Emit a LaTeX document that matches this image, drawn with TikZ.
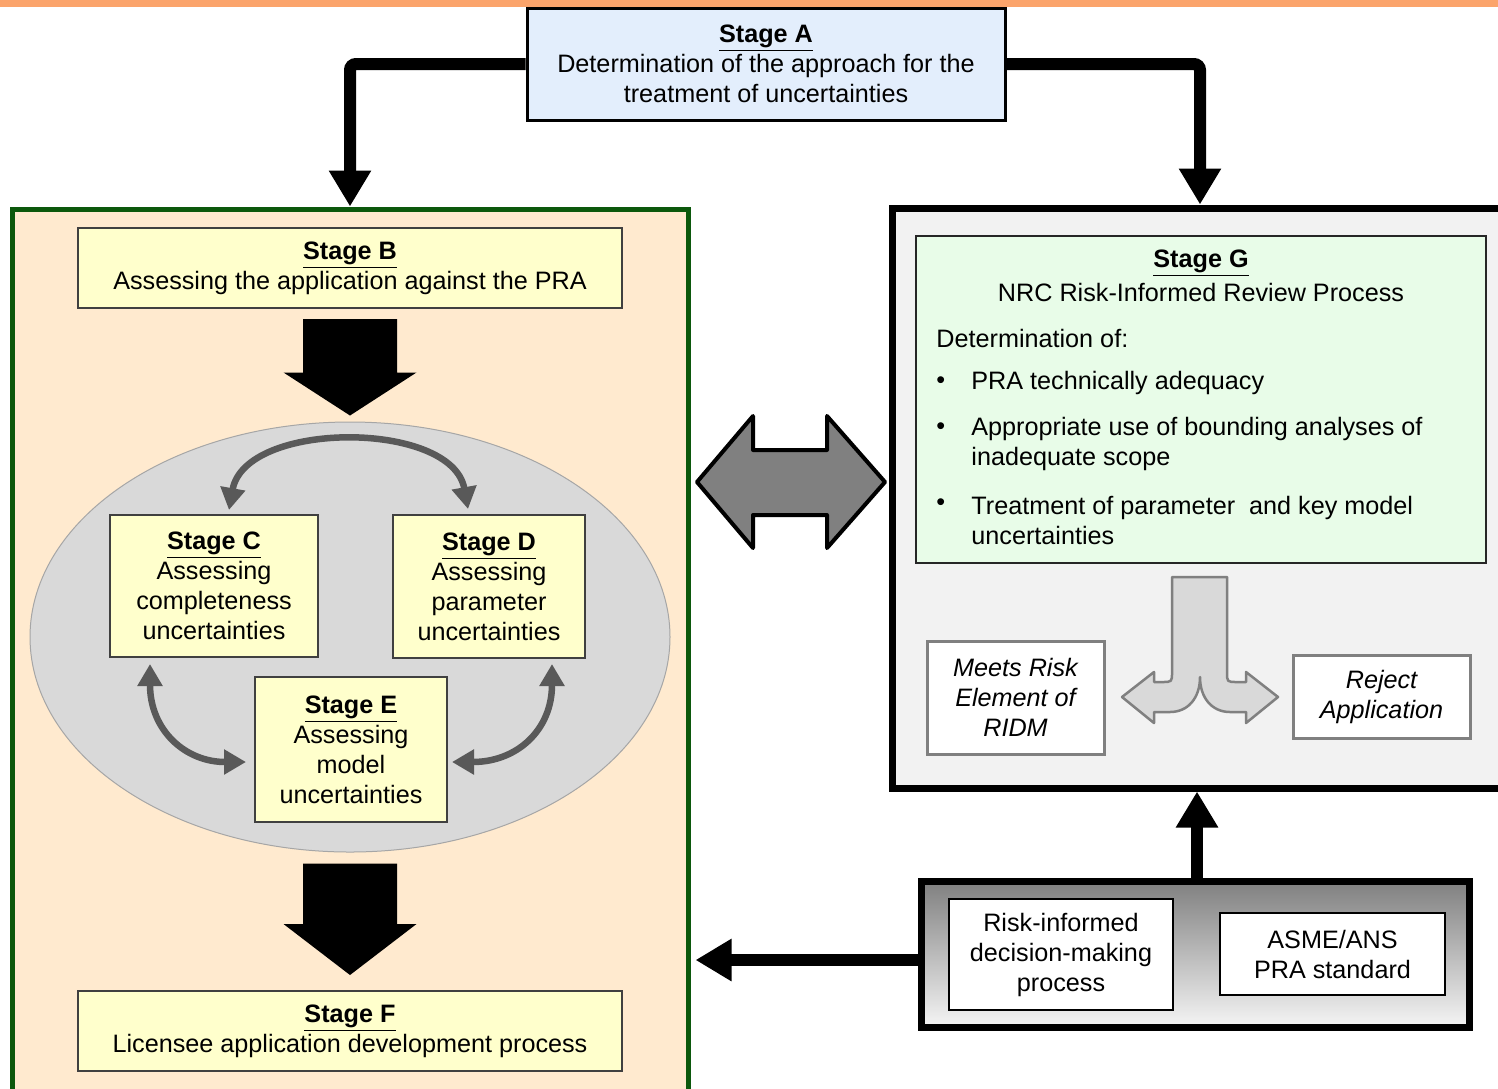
\documentclass[tikz,border=0pt]{standalone}
\usepackage{fontspec}
\setmainfont{Liberation Sans}
\usepackage{tikz}
\usetikzlibrary{shapes.geometric, arrows.meta, calc}

\definecolor{topbar}{RGB}{251,164,107}
\definecolor{stageblue}{RGB}{227,238,252}
\definecolor{peach}{RGB}{255,234,207}
\definecolor{darkgreen}{RGB}{12,88,12}
\definecolor{paleyellow}{RGB}{255,255,204}
\definecolor{mint}{RGB}{232,252,232}
\definecolor{panelgray}{RGB}{242,242,242}
\definecolor{ovalgray}{RGB}{217,217,217}
\definecolor{cyclegray}{RGB}{89,89,89}

\newcommand{\stagetitle}[1]{\underline{\textbf{#1}}}

\tikzstyle{panel} = [rectangle, draw=black, line width=3.5pt, inner sep=0pt]
\tikzstyle{stagebox} = [rectangle, draw=black!75, line width=1pt, fill=paleyellow, align=center, inner sep=0pt]
\tikzstyle{outcome} = [rectangle, draw=black!50, line width=1.5pt, fill=white, align=center, inner sep=0pt, font=\fontsize{12.6}{15}\selectfont\itshape]
\tikzstyle{inputbox} = [rectangle, draw=black, line width=1pt, fill=white, align=center, inner sep=0pt]
\tikzstyle{arrow} = [line width=6pt, -{Triangle[width=20pt,length=18pt]}]
\tikzstyle{cyclearrow} = [draw=cyclegray, line width=3.25pt, {Triangle[width=12pt,length=11pt]}-{Triangle[width=12pt,length=11pt]}]
\tikzstyle{blockarrow} = [fill=black]

\begin{document}
\begin{tikzpicture}[x=0.5pt, y=-0.5pt, font=\fontsize{12.6}{15}\selectfont]
\useasboundingbox (0,0) rectangle (1498,1088);
\fill[topbar] (0,0) rectangle (1498,7);

% left panel
\node (leftpanel) [panel, draw=darkgreen, line width=2.5pt, fill=peach, minimum width=338pt, minimum height=445.5pt] at (350,654.5) {};
\node (stageB) [stagebox, minimum width=272pt, minimum height=40pt] at (350,268) {\stagetitle{Stage B}\\Assessing the application against the PRA};
\node (oval) [ellipse, draw=black!35, line width=0.5pt, fill=ovalgray, inner sep=0pt, minimum width=320pt, minimum height=215pt] at (350,637) {};
\node (stageC) [stagebox, minimum width=104pt, minimum height=71pt] at (214,586) {\stagetitle{Stage C}\\Assessing\\completeness\\uncertainties};
\node (stageD) [stagebox, minimum width=96pt, minimum height=71.5pt] at (489,586.5) {\stagetitle{Stage D}\\Assessing\\parameter\\uncertainties};
\node (stageE) [stagebox, minimum width=96pt, minimum height=72.5pt] at (351,749.5) {\stagetitle{Stage E}\\Assessing\\model\\uncertainties};
\node (stageF) [stagebox, minimum width=272pt, minimum height=40pt] at (350,1031) {\stagetitle{Stage F}\\Licensee application development process};

% right panel
\node (rightpanel) [panel, fill=panelgray, minimum width=308pt, minimum height=290pt] at (1200,498) {};
\node (stageG) [rectangle, draw=black!85, line width=1pt, fill=mint, minimum width=285pt, minimum height=163.5pt] at (1201,399.5) {};
\node (gtitle) at (1201,263) {\stagetitle{Stage G}};
\node (gsub) at (1201,292) {NRC Risk-Informed Review Process};
\node (gdet) [anchor=west, inner sep=0pt] at (936,338) {Determination of:};
\node (gdot1) [anchor=west, inner sep=0pt] at (936,383) {\textbullet};
\node (gitem1) [anchor=west, inner sep=0pt] at (971,383) {PRA technically adequacy};
\node (gdot2) [anchor=west, inner sep=0pt] at (936,429) {\textbullet};
\node (gitem2) [anchor=west, inner sep=0pt, align=left] at (971,444) {Appropriate use of bounding analyses of\\inadequate scope};
\node (gdot3) [anchor=west, inner sep=0pt] at (936,505) {\textbullet};
\node (gitem3) [anchor=west, inner sep=0pt, align=left] at (971,520) {Treatment of parameter~ and key model\\uncertainties};

\node (meets) [outcome, minimum width=88.5pt, minimum height=56.5pt] at (1015.5,697.5) {Meets Risk\\Element of\\RIDM};
\node (reject) [outcome, minimum width=88.5pt, minimum height=41.5pt] at (1381.5,696.5) {Reject\\Application};
\draw [fill=ovalgray, draw=black!50, line width=1.25pt, line join=round]
  (1172,577) -- (1227,577) -- (1227,672) .. controls (1227,682) .. (1237,682) -- (1246,682) -- (1246,672)
  -- (1278,697) -- (1246,723) -- (1246,712) -- (1230,712)
  .. controls (1212,712) and (1200,698) .. (1200,677)
  .. controls (1200,698) and (1188,712) .. (1170,712)
  -- (1154,712) -- (1154,723) -- (1122,697) -- (1154,672) -- (1154,682) -- (1162,682)
  .. controls (1172,682) .. (1172,672) -- cycle;

% inputs
\node (inputs) [panel, top color=black!50, bottom color=black!4, minimum width=274pt, minimum height=73pt] at (1195,954) {};
\node (ridm) [inputbox, minimum width=112pt, minimum height=55.5pt] at (1061,954.5) {Risk-informed\\decision-making\\process};
\node (asme) [inputbox, minimum width=112.5pt, minimum height=41pt] at (1332.5,954) {ASME/ANS\\PRA standard};

\node (stageA) [rectangle, draw=black, line width=1.5pt, fill=stageblue, minimum width=239pt, minimum height=56pt, align=center, inner sep=0pt] at (766,64) {\stagetitle{Stage A}\\Determination of the approach for the\\treatment of uncertainties};

% connectors
\draw [arrow, rounded corners=3pt] (stageA.west) -| (leftpanel.north);
\draw [arrow, rounded corners=3pt] (stageA.east) -| (rightpanel.north);
\draw [arrow] ($(inputs.north)+(2,0)$) -- ($(inputs.north |- rightpanel.south)+(2,0)$);
\draw [arrow] ($(inputs.west)+(0,6)$) -- ($(inputs.west -| leftpanel.east)+(5,6)$);

\fill [blockarrow] ($(stageB.south)+(-47,10)$) -- ($(stageB.south)+(47,10)$) -- ($(oval.north)+(47,-49)$) -- ($(oval.north)+(66.5,-49)$)
  -- ($(oval.north)+(0,-6)$) -- ($(oval.north)+(-66.5,-49)$) -- ($(oval.north)+(-47,-49)$) -- cycle;
\fill [blockarrow] ($(oval.south)+(-47,11)$) -- ($(oval.south)+(47,11)$) -- ($(stageF.north)+(47,-66)$) -- ($(stageF.north)+(66.5,-66)$)
  -- ($(stageF.north)+(0,-15)$) -- ($(stageF.north)+(-66.5,-66)$) -- ($(stageF.north)+(-47,-66)$) -- cycle;

\draw [cyclearrow] ($(stageC.north)+(15,-4)$) .. controls (245,420) and (452,420) .. ($(stageD.north)+(-21,-5)$);
\draw [cyclearrow] ($(stageC.south)+(-64,6)$) .. controls (150,730) and (185,762) .. ($(stageE.west)+(-8,12.5)$);
\draw [cyclearrow] ($(stageD.south)+(63,5)$) .. controls (552,730) and (517,762) .. ($(stageE.east)+(4,12.5)$);

\draw [fill=black!50, line width=2pt, line join=round] (697,482) -- (753,416) -- (753,450) -- (827,450) -- (827,416) -- (885,482)
  -- (827,548) -- (827,515) -- (753,515) -- (753,548) -- cycle;
\end{tikzpicture}
\end{document}
